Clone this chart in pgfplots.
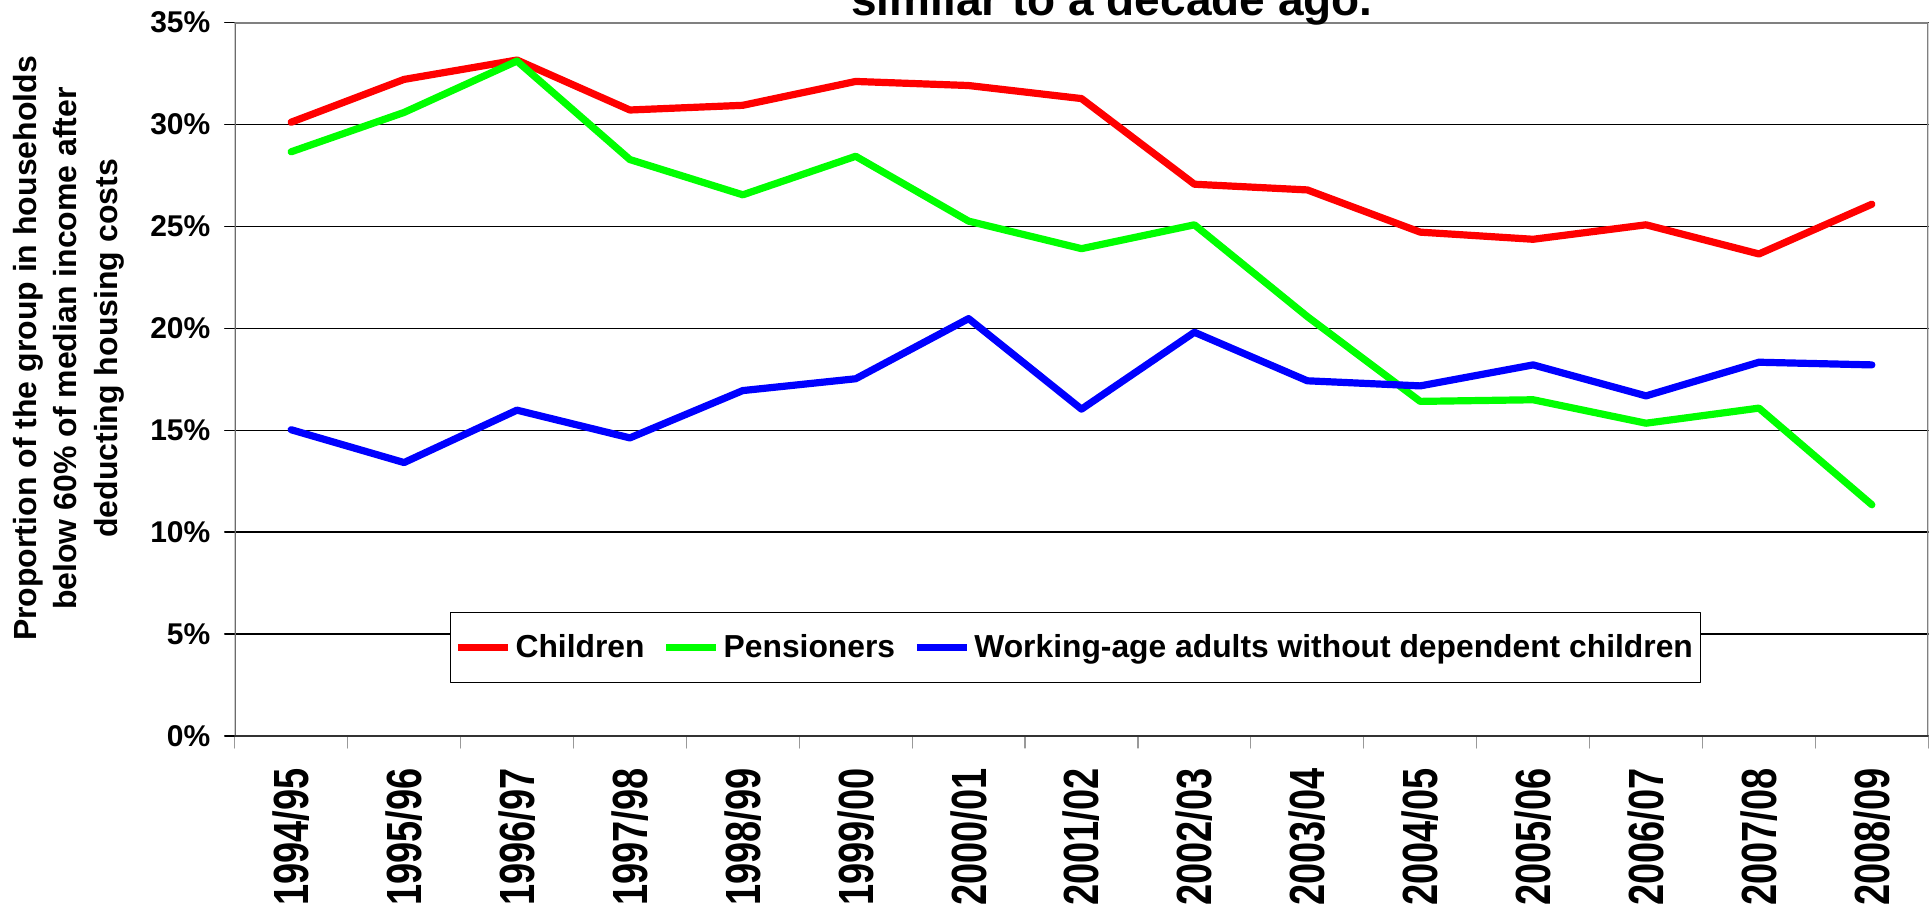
\documentclass[border=0pt]{standalone}
\usepackage{pgfplots}
\pgfplotsset{compat=1.18}
\usepackage{graphicx}
\usepackage{fontspec}
\setmainfont{Liberation Sans}
\definecolor{cRed}{HTML}{FF0000}
\definecolor{cGreen}{HTML}{00FF00}
\definecolor{cBlue}{HTML}{0000FF}
\newcommand\sx[1]{\scalebox{1}[1.3]{#1}}
\begin{document}
\begin{tikzpicture}
\useasboundingbox (0,0) rectangle (964.5pt,-455.5pt);
\clip (0,0) rectangle (964.5pt,-455.5pt);
\begin{axis}[
  at={(117.35pt,-368pt)}, anchor=south west,
  width=846.8pt, height=356.85pt, scale only axis,
  xmin=-0.5, xmax=14.5, ymin=0, ymax=35,
  xtick={0,...,14},
  xticklabels={\sx{1994/95},\sx{1995/96},\sx{1996/97},\sx{1997/98},\sx{1998/99},\sx{1999/00},\sx{2000/01},\sx{2001/02},\sx{2002/03},\sx{2003/04},\sx{2004/05},\sx{2005/06},\sx{2006/07},\sx{2007/08},\sx{2008/09}},
  minor xtick={-0.5,0.5,...,14.5},
  ytick={0,5,...,35},
  yticklabels={0\%,5\%,10\%,15\%,20\%,25\%,30\%,35\%},
  xtick pos=bottom, ytick pos=left,
  tick align=outside,
  major tick length=5pt, minor tick length=6pt,
  major x tick style={draw=none},
  minor x tick style={draw=gray!80, line width=0.6pt},
  major y tick style={draw=black, line width=0.6pt},
  ymajorgrids, grid style={black, line width=0.6pt},
  axis line style={draw=none},
  /pgf/number format/assume math mode=true,
  yticklabel style={font=\fontsize{15}{18}\selectfont\bfseries, inner sep=0pt, xshift=-7pt},
  xticklabel style={rotate=90, anchor=east, font=\fontsize{19}{22}\selectfont\bfseries, inner sep=0pt, xshift=-11pt, yshift=0pt},
  line join=round, line cap=round,
  legend style={at={(0.4965,0.1238)}, anchor=center, draw=black, line width=0.6pt,
    fill=white,
    font=\fontsize{15.9}{18}\selectfont\bfseries, legend columns=3,
    inner xsep=2pt, inner ysep=9pt,
    /tikz/every even column/.append style={column sep=7pt}},
  legend image code/.code={\draw[#1] (0pt,0pt) -- (25pt,0pt);},
]
\draw[draw=gray!85!black, line width=1pt] (rel axis cs:0,0) -- (rel axis cs:0,1);
\draw[draw=gray, line width=1.2pt] (rel axis cs:0,1) -- (rel axis cs:1,1) -- (rel axis cs:1,0);
\draw[draw=black!80, line width=1pt] (rel axis cs:0,0) -- (rel axis cs:1,0);
\addplot[cRed, line width=3.6pt] coordinates {
(0,30.1) (1,32.2) (2,33.15) (3,30.7) (4,30.93) (5,32.1) (6,31.9) (7,31.26)
(8,27.06) (9,26.78) (10,24.71) (11,24.36) (12,25.07) (13,23.64) (14,26.08)};
\addlegendentry{Children}
\addplot[cGreen, line width=3.6pt] coordinates {
(0,28.65) (1,30.58) (2,33.1) (3,28.27) (4,26.54) (5,28.43) (6,25.25) (7,23.9)
(8,25.07) (9,20.57) (10,16.41) (11,16.49) (12,15.34) (13,16.08) (14,11.34)};
\addlegendentry{Pensioners}
\addplot[cBlue, line width=3.6pt] coordinates {
(0,15.02) (1,13.41) (2,15.98) (3,14.62) (4,16.94) (5,17.52) (6,20.47) (7,16.03)
(8,19.8) (9,17.42) (10,17.17) (11,18.2) (12,16.68) (13,18.33) (14,18.2)};
\addlegendentry{Working-age adults without dependent children}
\end{axis}
\node[anchor=base, font=\fontsize{23}{27}\selectfont\bfseries] at (556pt,-7.6pt) {similar to a decade ago.};
\node[rotate=90, align=center, font=\fontsize{16}{20.3}\selectfont\bfseries] at (34.3pt,-174.25pt) {Proportion of the group in households\\below 60\% of median income after\\deducting housing costs};
\end{tikzpicture}
\end{document}
